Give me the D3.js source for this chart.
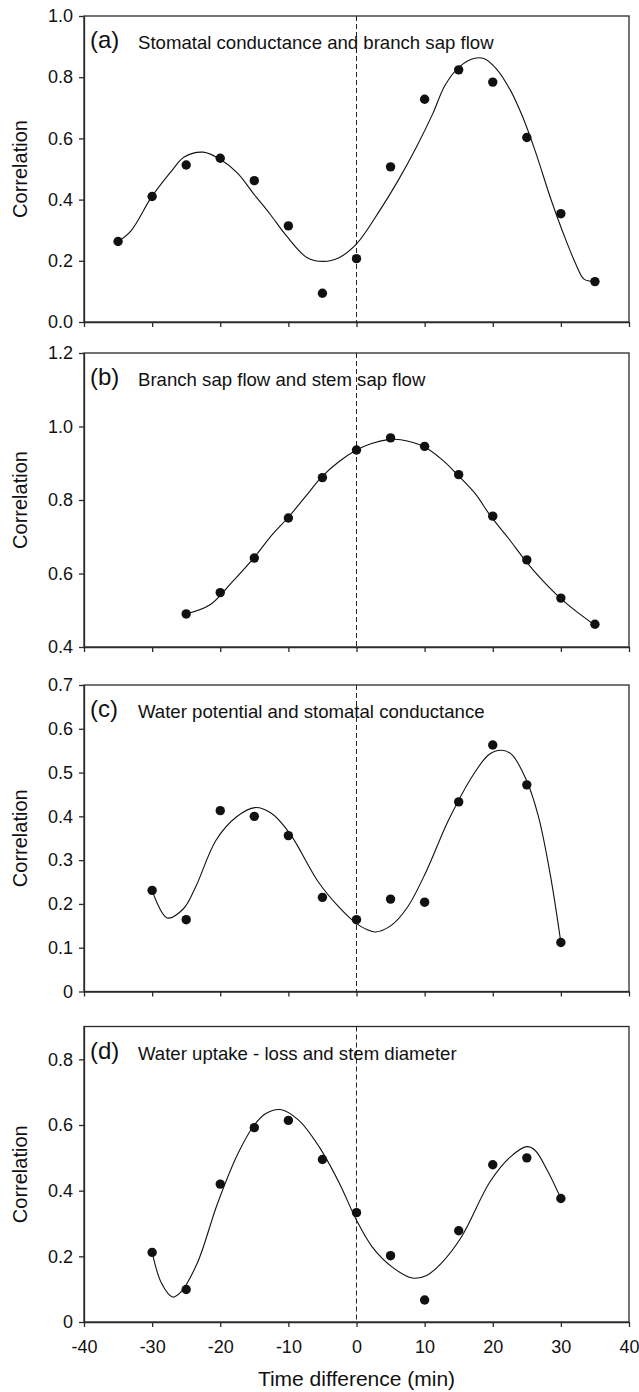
<!DOCTYPE html>
<html>
<head>
<meta charset="utf-8">
<script src="https://cdn.jsdelivr.net/npm/d3@7"></script>
<style>
  body { margin: 0; background: #fff; }
  svg { display: block; font-family: "Liberation Sans", Arial, sans-serif; }
  .axis path, .axis line { stroke: #2a2a2a; stroke-width: 1.3; }
  .axis text { font-size: 18px; fill: #111; }
</style>
</head>
<body>
<div class="chart"></div>
<script>
/*
  Cross-correlation of four pairs of signals against time lag,
  measured points plus the smoothed curve drawn through them.
*/

// ---- data ----
var xTicks = [-40, -30, -20, -10, 0, 10, 20, 30, 40];

// (a) stomatal conductance and branch sap flow
var lagA = [-35, -30, -25, -20, -15, -10, -5, 0, 5, 10, 15, 20, 25, 30, 35];
var corrA = [0.263, 0.41, 0.513, 0.535, 0.462, 0.314, 0.094, 0.207, 0.507, 0.728, 0.824, 0.784, 0.603, 0.354, 0.132];
var fitLagA = [-35, -33.1, -30.1, -27.1, -25.3, -22.5, -19.9, -17.5, -15.1, -12.7, -10.3, -7.3, -4.9, -2.5, 0,
  3.4, 6.1, 8.8, 11.2, 13, 15.1, 17.2, 18.7, 20.5, 22.6, 24.4, 26.2, 28.6, 30.4, 32.2, 33.4, 34.9];
var fitA = [0.263, 0.298, 0.408, 0.495, 0.539, 0.555, 0.53, 0.487, 0.419, 0.353, 0.282, 0.211, 0.198, 0.211, 0.255,
  0.364, 0.462, 0.572, 0.681, 0.774, 0.834, 0.861, 0.861, 0.828, 0.757, 0.67, 0.561, 0.397, 0.287, 0.189, 0.14, 0.132];
var ticksA = [0, 0.2, 0.4, 0.6, 0.8, 1.0];

// (b) branch sap flow and stem sap flow
var lagB = [-25, -20, -15, -10, -5, 0, 5, 10, 15, 20, 25, 30, 35];
var corrB = [0.49, 0.548, 0.642, 0.751, 0.861, 0.936, 0.969, 0.946, 0.869, 0.756, 0.637, 0.533, 0.462];
var fitLagB = [-25, -21.5, -18.4, -15.1, -12.4, -10.1, -7.5, -5.2, -2.6, 0, 2.2, 4.9, 6.5, 9.8, 12.6, 14.8,
  17.4, 19.7, 22.3, 24.7, 27.2, 29.9, 32.6, 34.8];
var fitB = [0.49, 0.515, 0.574, 0.642, 0.705, 0.751, 0.809, 0.861, 0.904, 0.936, 0.954, 0.965, 0.964, 0.946, 0.909, 0.869,
  0.818, 0.756, 0.696, 0.637, 0.583, 0.533, 0.492, 0.462];
var ticksB = [0.4, 0.6, 0.8, 1.0, 1.2];

// (c) water potential and stomatal conductance
var lagC = [-30, -25, -20, -15, -10, -5, 0, 5, 10, 15, 20, 25, 30];
var corrC = [0.231, 0.164, 0.413, 0.4, 0.356, 0.215, 0.164, 0.211, 0.204, 0.433, 0.563, 0.472, 0.112];
var fitLagC = [-30, -27.8, -25.4, -23.6, -20.6, -17.6, -14.9, -12.5, -9.8, -5.6, -2.6, 0, 1.6, 2.8, 5.1, 7.5,
  10.2, 13.5, 17.1, 19.5, 21.3, 22.8, 24.9, 26.7, 28.5, 30];
var fitC = [0.231, 0.168, 0.189, 0.239, 0.346, 0.399, 0.42, 0.407, 0.361, 0.25, 0.193, 0.155, 0.141, 0.136, 0.151, 0.193,
  0.273, 0.391, 0.494, 0.542, 0.551, 0.541, 0.484, 0.4, 0.262, 0.112];
var ticksC = [0, 0.1, 0.2, 0.3, 0.4, 0.5, 0.6, 0.7];

// (d) water uptake - loss and stem diameter
var lagD = [-30, -25, -20, -15, -10, -5, 0, 5, 10, 15, 20, 25, 30];
var corrD = [0.212, 0.099, 0.42, 0.592, 0.614, 0.495, 0.333, 0.202, 0.067, 0.278, 0.479, 0.5, 0.376];
var fitLagD = [-30, -28.6, -27, -25.8, -23.4, -20.4, -17.4, -15, -13.3, -11.2, -8.5, -5.5, -2.5, 0, 2.3, 5.2,
  8.2, 10.3, 12.4, 15.4, 19.6, 22.6, 25, 26.2, 28, 30];
var fitD = [0.212, 0.117, 0.076, 0.091, 0.178, 0.361, 0.513, 0.6, 0.635, 0.647, 0.615, 0.534, 0.422, 0.31, 0.229, 0.168,
  0.134, 0.142, 0.178, 0.259, 0.427, 0.503, 0.534, 0.523, 0.462, 0.376];
var ticksD = [0, 0.2, 0.4, 0.6, 0.8];

var labels = ['(a)', '(b)', '(c)', '(d)'];
var titles = [
  'Stomatal conductance and branch sap flow',
  'Branch sap flow and stem sap flow',
  'Water potential and stomatal conductance',
  'Water uptake - loss and stem diameter'
];

// ---- layout ----
var width = 639, height = 1392;
var left = 84, right = 629;
// pixel top/bottom of each panel's plot box
var boxes = [
  { top: 16, bottom: 322 },
  { top: 353, bottom: 647 },
  { top: 685, bottom: 991.5 },
  { top: 1026.5, bottom: 1322 }
];

var oneDec = d3.format('.1f');
var zeroPlain = d => d === 0 ? '0' : oneDec(d);

var panels = [
  { lag: lagA, corr: corrA, fitLag: fitLagA, fit: fitA, ticks: ticksA, domain: [0, 1.0], fmt: oneDec },
  { lag: lagB, corr: corrB, fitLag: fitLagB, fit: fitB, ticks: ticksB, domain: [0.4, 1.2], fmt: oneDec },
  { lag: lagC, corr: corrC, fitLag: fitLagC, fit: fitC, ticks: ticksC, domain: [0, 0.7], fmt: zeroPlain },
  { lag: lagD, corr: corrD, fitLag: fitLagD, fit: fitD, ticks: ticksD, domain: [0, 0.9], fmt: zeroPlain }
];

var svg = d3.select('.chart')
  .append('svg')
    .attr('width', width)
    .attr('height', height);

var xScale = d3.scaleLinear()
  .domain([-40, 40])
  .range([left, right]);

var line = d3.line()
  .curve(d3.curveCatmullRom.alpha(0.5));

panels.forEach(function (p, i) {
  var box = boxes[i];
  var yScale = d3.scaleLinear()
    .domain(p.domain)
    .range([box.bottom, box.top]);

  var g = svg.append('g');

  // frame around the plot area
  g.append('rect')
    .attr('x', left)
    .attr('y', box.top)
    .attr('width', right - left)
    .attr('height', box.bottom - box.top)
    .style('fill', 'none')
    .style('stroke', '#2a2a2a')
    .style('stroke-width', 1.3);

  // zero-lag reference line
  g.append('line')
    .attr('x1', xScale(0))
    .attr('x2', xScale(0))
    .attr('y1', box.top)
    .attr('y2', box.bottom)
    .style('stroke', '#222')
    .style('stroke-width', 1)
    .style('stroke-dasharray', '5,3');

  g.append('g')
    .attr('class', 'axis')
    .attr('transform', `translate(${left}, 0)`)
    .call(d3.axisLeft(yScale).tickValues(p.ticks).tickFormat(p.fmt).tickSize(5).tickPadding(6).tickSizeOuter(0));

  // only the bottom panel carries x tick labels; plain hyphen for negatives
  var last = i === panels.length - 1;
  g.append('g')
    .attr('class', 'axis')
    .attr('transform', `translate(0, ${box.bottom})`)
    .call(d3.axisBottom(xScale).tickValues(xTicks).tickSize(5).tickPadding(13).tickSizeOuter(0)
      .tickFormat(last ? (d => String(d)) : ''));

  // smoothed curve
  g.append('path')
    .datum(p.fitLag.map((t, k) => [xScale(t), yScale(p.fit[k])]))
    .attr('d', line)
    .style('fill', 'none')
    .style('stroke', '#111')
    .style('stroke-width', 1.1);

  // measured correlations
  g.selectAll('.dot')
    .data(p.lag)
    .enter()
    .append('circle')
    .attr('class', 'dot')
    .attr('cx', d => xScale(d))
    .attr('cy', (d, k) => yScale(p.corr[k]))
    .attr('r', 4.7)
    .style('fill', '#111');

  // panel letter and caption
  g.append('text')
    .attr('x', 90)
    .attr('y', box.top + 32)
    .style('font-size', '24px')
    .style('fill', '#111')
    .text(labels[i]);

  g.append('text')
    .attr('x', 138)
    .attr('y', box.top + 33)
    .style('font-size', '18.6px')
    .style('fill', '#111')
    .text(titles[i]);

  // y axis title
  var mid = (box.top + box.bottom) / 2;
  g.append('text')
    .attr('transform', `translate(27, ${mid}) rotate(-90)`)
    .attr('text-anchor', 'middle')
    .style('font-size', '20px')
    .style('fill', '#111')
    .text('Correlation');
});

svg.append('text')
  .attr('x', xScale(0))
  .attr('y', 1386)
  .attr('text-anchor', 'middle')
  .style('font-size', '21px')
  .style('fill', '#111')
  .text('Time difference (min)');
</script>
</body>
</html>
